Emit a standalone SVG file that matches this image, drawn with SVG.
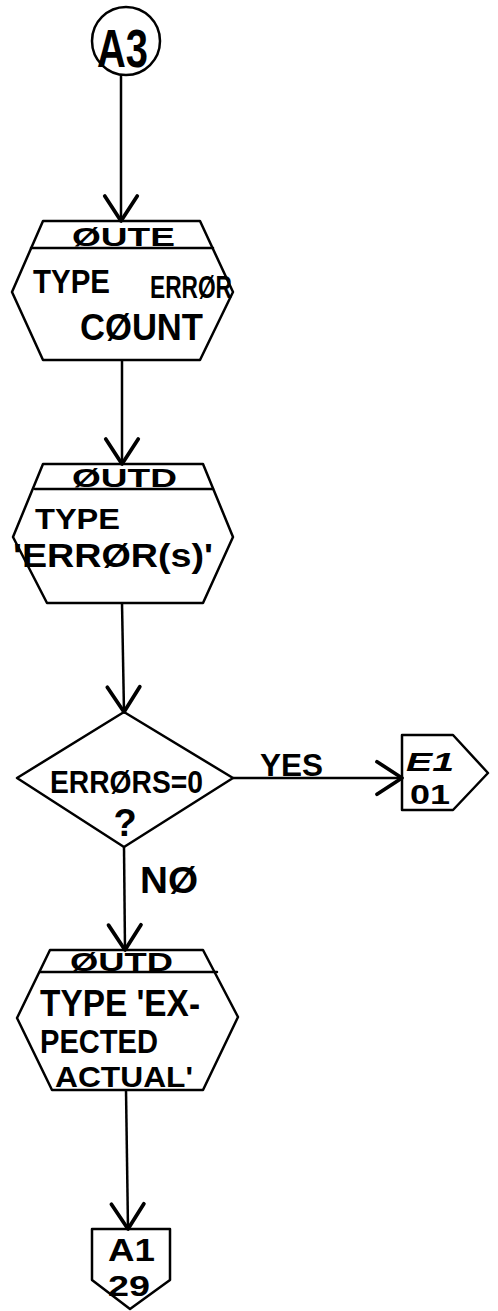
<svg xmlns="http://www.w3.org/2000/svg" width="498" height="1311" viewBox="0 0 498 1311">
<style>
.s{fill:none;stroke:#000;stroke-width:2.5;stroke-linejoin:round;stroke-linecap:round}
.t{font-family:"Liberation Sans",Arial,sans-serif;font-weight:bold;fill:#000}
.c{stroke:#000;stroke-width:2.5;fill:none}
</style>
<defs>
<marker id="ah" markerUnits="userSpaceOnUse" markerWidth="40" markerHeight="40" refX="0" refY="0" viewBox="-22 -16 26 32" orient="auto" overflow="visible">
<path d="M-20,-13 L0,0 L-20,13" fill="none" stroke="#000" stroke-width="3" stroke-linecap="round" stroke-linejoin="round"/>
</marker>
</defs>
<rect width="498" height="1311" fill="#fff"/>
<g id="connectors">
<line class="c" x1="121" y1="75" x2="121" y2="221" marker-end="url(#ah)"/>
<line class="c" x1="122" y1="360" x2="122" y2="464" marker-end="url(#ah)"/>
<line class="c" x1="122" y1="603" x2="124" y2="712" marker-end="url(#ah)"/>
<line class="c" x1="233" y1="778" x2="402" y2="778" stroke-width="3.5" marker-end="url(#ah)"/>
<line class="c" x1="124" y1="847" x2="125" y2="950" marker-end="url(#ah)"/>
<line class="c" x1="126" y1="1090" x2="128" y2="1229" marker-end="url(#ah)"/>
<text class="t" x="260" y="776" font-size="32" textLength="63" lengthAdjust="spacingAndGlyphs">YES</text>
<text class="t" x="140" y="893" font-size="36" textLength="58" lengthAdjust="spacingAndGlyphs">NØ</text>
</g>
<g id="n_a3">
<circle class="s" cx="126" cy="41" r="34"/>
<text class="t" x="97" y="67" font-size="54" font-weight="normal" textLength="51" lengthAdjust="spacingAndGlyphs">A3</text>
</g>
<g id="n_oute">
<path class="s" d="M43,221 L200,221 L233,292 L200,360 L43,360 L12,292 Z"/>
<line class="s" x1="31" y1="248" x2="213" y2="248"/>
<text class="t" x="72" y="246" font-size="26" textLength="103" lengthAdjust="spacingAndGlyphs">ØUTE</text>
<text class="t" x="33" y="293" font-size="33" font-weight="normal" textLength="77" lengthAdjust="spacingAndGlyphs">TYPE</text>
<text class="t" x="150" y="298" font-size="31" textLength="82" lengthAdjust="spacingAndGlyphs">ERRØR</text>
<text class="t" x="80" y="340" font-size="36" textLength="123" lengthAdjust="spacingAndGlyphs">CØUNT</text>
</g>
<g id="n_outd1">
<path class="s" d="M43,464 L203,464 L233,537 L203,603 L47,603 L13,537 Z"/>
<line class="s" x1="35" y1="489" x2="213" y2="489"/>
<text class="t" x="72" y="487" font-size="26" textLength="105" lengthAdjust="spacingAndGlyphs">ØUTD</text>
<text class="t" x="35" y="529" font-size="30" font-weight="normal" textLength="85" lengthAdjust="spacingAndGlyphs">TYPE</text>
<text class="t" x="13" y="567" font-size="34" font-weight="normal" textLength="200" lengthAdjust="spacingAndGlyphs">'ERRØR(s)'</text>
</g>
<g id="n_decision">
<path class="s" d="M124,712 L233,778 L124,847 L17,778 Z"/>
<text class="t" x="50" y="793" font-size="32" font-weight="normal" textLength="153" lengthAdjust="spacingAndGlyphs">ERRØRS=0</text>
<text class="t" x="125" y="836" font-size="38" font-weight="normal" text-anchor="middle">?</text>
</g>
<g id="n_e1">
<path class="s" d="M402,735 L453,735 L488,773 L453,810 L402,810 Z"/>
<text class="t" x="406" y="771" font-size="26" font-style="italic" font-weight="normal" textLength="48" lengthAdjust="spacingAndGlyphs">E1</text>
<text class="t" x="410" y="804" font-size="28" textLength="40" lengthAdjust="spacingAndGlyphs">01</text>
</g>
<g id="n_outd2">
<path class="s" d="M50,950 L203,950 L238,1017 L203,1090 L52,1090 L17,1018 Z"/>
<line class="s" x1="40" y1="972" x2="217" y2="972"/>
<text class="t" x="70" y="971" font-size="25" textLength="103" lengthAdjust="spacingAndGlyphs">ØUTD</text>
<text class="t" x="40" y="1016" font-size="36" textLength="160" lengthAdjust="spacingAndGlyphs">TYPE 'EX-</text>
<text class="t" x="40" y="1053" font-size="33" font-weight="normal" textLength="118" lengthAdjust="spacingAndGlyphs">PECTED</text>
<text class="t" x="55" y="1087" font-size="30" textLength="138" lengthAdjust="spacingAndGlyphs">ACTUAL'</text>
</g>
<g id="n_a1">
<path class="s" d="M92,1229 L170,1229 L170,1280 L130,1309 L92,1280 Z"/>
<text class="t" x="108" y="1261" font-size="31" textLength="47" lengthAdjust="spacingAndGlyphs">A1</text>
<text class="t" x="108" y="1296" font-size="29" textLength="42" lengthAdjust="spacingAndGlyphs">29</text>
</g>
</svg>
